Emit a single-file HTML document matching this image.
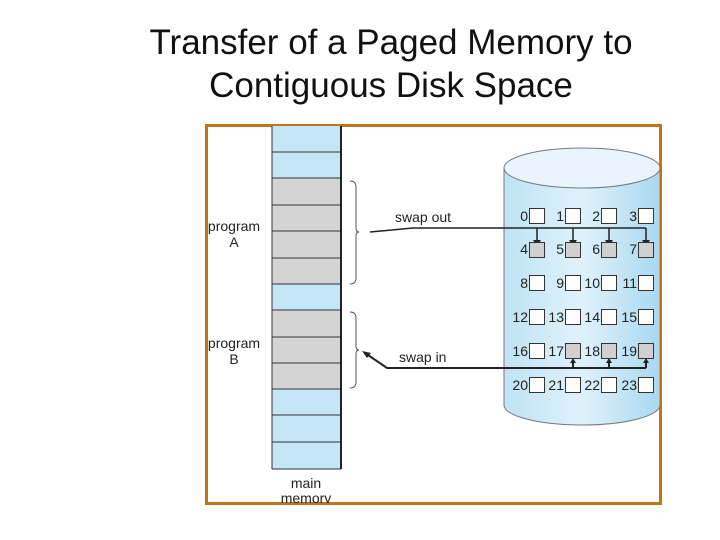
<!DOCTYPE html>
<html><head><style>
body{margin:0;width:720px;height:540px;background:#fff;overflow:hidden;font-family:"Liberation Sans",sans-serif;}
.t{position:absolute;left:0;width:782px;text-align:center;font-size:35px;color:#111;}
</style></head><body>
<div class="t" style="top:23px;">Transfer of a Paged Memory to</div>
<div class="t" style="top:66px;">Contiguous Disk Space</div>
<svg width="720" height="540" style="position:absolute;left:0;top:0" font-family="Liberation Sans, sans-serif">
<defs>
<linearGradient id="cy" x1="0" x2="1"><stop offset="0" stop-color="#bfe3f5"/><stop offset="0.5" stop-color="#dff2fb"/><stop offset="1" stop-color="#a9d8f0"/></linearGradient>
<clipPath id="fr"><rect x="207" y="126" width="453" height="377"/></clipPath>
</defs>
<rect x="206.5" y="125.5" width="454" height="378" fill="#fff" stroke="#c47418" stroke-width="3"/>
<g clip-path="url(#fr)">
<rect x="272" y="120" width="69" height="349" fill="#c5e6f7"/>
<rect x="272" y="178" width="69" height="106" fill="#d4d4d4"/>
<rect x="272" y="310" width="69" height="79" fill="#d4d4d4"/>
<g stroke="#333" stroke-width="1">
<line x1="272" y1="152" x2="341" y2="152"/><line x1="272" y1="178" x2="341" y2="178"/><line x1="272" y1="205" x2="341" y2="205"/><line x1="272" y1="231" x2="341" y2="231"/><line x1="272" y1="258" x2="341" y2="258"/><line x1="272" y1="284" x2="341" y2="284"/><line x1="272" y1="310" x2="341" y2="310"/><line x1="272" y1="337" x2="341" y2="337"/><line x1="272" y1="363" x2="341" y2="363"/><line x1="272" y1="389" x2="341" y2="389"/><line x1="272" y1="415" x2="341" y2="415"/><line x1="272" y1="442" x2="341" y2="442"/>
<line x1="272" y1="120" x2="272" y2="469"/><line x1="272" y1="469" x2="341" y2="469"/>
</g>
<line x1="341" y1="120" x2="341" y2="469" stroke="#222" stroke-width="2"/>
<path d="M504,168 L504,405 A78,20 0 0 0 660,405 L660,168 Z" fill="url(#cy)" stroke="#777"/>
<ellipse cx="582" cy="168" rx="78" ry="20" fill="#e8f5fc" stroke="#777"/>
<g font-size="14" fill="#222">
<text x="234" y="231" text-anchor="middle">program</text><text x="234" y="247" text-anchor="middle">A</text>
<text x="234" y="348" text-anchor="middle">program</text><text x="234" y="364" text-anchor="middle">B</text>
<text x="306" y="488" text-anchor="middle">main</text><text x="306" y="503" text-anchor="middle">memory</text>
</g>
</g>
<g fill="none" stroke="#555" stroke-width="1">
<path d="M350,181 q6,0 6,6 v41 q0,4 3,4 q-3,0 -3,4 v42 q0,6 -6,6"/>
<path d="M350,312 q6,0 6,6 v28 q0,4 3,4 q-3,0 -3,4 v28 q0,6 -6,6"/>
</g>
<g font-size="14" fill="#222">
<text x="395" y="222">swap out</text><text x="399" y="362">swap in</text>
</g>
<g stroke="#222" fill="none" stroke-width="1.5">
<path d="M370,232 L413,228 L646,228"/>
<line x1="537" y1="228" x2="537" y2="240"/><line x1="573" y1="228" x2="573" y2="240"/><line x1="609" y1="228" x2="609" y2="240"/><line x1="646" y1="228" x2="646" y2="240"/>
</g>
<g fill="#222">
<path d="M533,240 h8 l-4,6z"/><path d="M569,240 h8 l-4,6z"/><path d="M605,240 h8 l-4,6z"/><path d="M642,240 h8 l-4,6z"/>
<path d="M570,363 h6 l-3,-5z"/><path d="M606,363 h6 l-3,-5z"/><path d="M643,363 h6 l-3,-5z"/>
<path d="M362,351 l9,2 l-4,5z"/>
</g>
<g stroke="#222" fill="none" stroke-width="2">
<path d="M368,355 L387,368 L646,368"/>
<line x1="573" y1="368" x2="573" y2="362"/><line x1="609" y1="368" x2="609" y2="362"/><line x1="646" y1="368" x2="646" y2="362"/>
</g>
<g font-size="14" fill="#222" text-anchor="end">
<text x="528" y="221">0</text><text x="564" y="221">1</text><text x="600" y="221">2</text><text x="637" y="221">3</text>
<text x="528" y="254">4</text><text x="564" y="254">5</text><text x="600" y="254">6</text><text x="637" y="254">7</text>
<text x="528" y="288">8</text><text x="564" y="288">9</text><text x="600" y="288">10</text><text x="637" y="288">11</text>
<text x="528" y="322">12</text><text x="564" y="322">13</text><text x="600" y="322">14</text><text x="637" y="322">15</text>
<text x="528" y="356">16</text><text x="564" y="356">17</text><text x="600" y="356">18</text><text x="637" y="356">19</text>
<text x="528" y="390">20</text><text x="564" y="390">21</text><text x="600" y="390">22</text><text x="637" y="390">23</text>
</g>
<g stroke="#333" stroke-width="1">
<g fill="#fff">
<rect x="529.5" y="208.5" width="15" height="15"/><rect x="565.5" y="208.5" width="15" height="15"/><rect x="601.5" y="208.5" width="15" height="15"/><rect x="638.5" y="208.5" width="15" height="15"/>
<rect x="529.5" y="275.5" width="15" height="15"/><rect x="565.5" y="275.5" width="15" height="15"/><rect x="601.5" y="275.5" width="15" height="15"/><rect x="638.5" y="275.5" width="15" height="15"/>
<rect x="529.5" y="309.5" width="15" height="15"/><rect x="565.5" y="309.5" width="15" height="15"/><rect x="601.5" y="309.5" width="15" height="15"/><rect x="638.5" y="309.5" width="15" height="15"/>
<rect x="529.5" y="343.5" width="15" height="15"/>
<rect x="529.5" y="377.5" width="15" height="15"/><rect x="565.5" y="377.5" width="15" height="15"/><rect x="601.5" y="377.5" width="15" height="15"/><rect x="638.5" y="377.5" width="15" height="15"/>
</g>
<g fill="#d0d0d0">
<rect x="529.5" y="242.5" width="15" height="15"/><rect x="565.5" y="242.5" width="15" height="15"/><rect x="601.5" y="242.5" width="15" height="15"/><rect x="638.5" y="242.5" width="15" height="15"/>
<rect x="565.5" y="343.5" width="15" height="15"/><rect x="601.5" y="343.5" width="15" height="15"/><rect x="638.5" y="343.5" width="15" height="15"/>
</g></g>
</svg>
</body></html>
